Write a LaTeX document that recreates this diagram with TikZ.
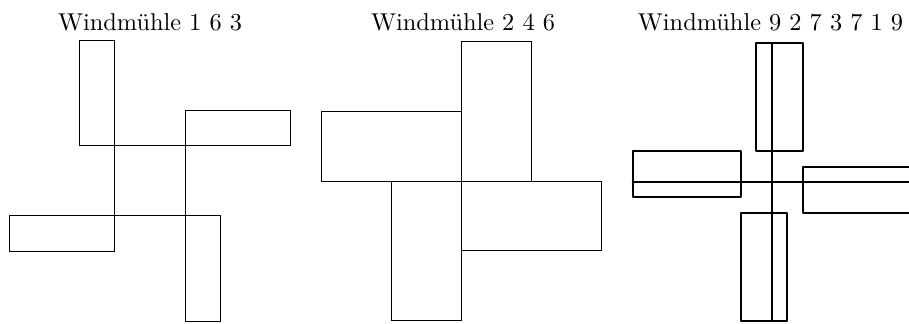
\documentclass[tikz,border=0pt]{standalone}
\usepackage{fontspec}
\begin{document}
\begin{tikzpicture}[x=0.4107pt,y=-0.4107pt,
  title/.style={anchor=base,inner sep=0pt,font=\fontsize{10}{12}\selectfont},
  thinline/.style={draw=black,line width=0.4pt},
  thickline/.style={draw=black,line width=0.85pt,line join=round,line cap=round}]
\useasboundingbox (0,0) rectangle (909,324);
% titles
\node[title] (t1) at (150,31) {Windmühle 1 6 3};
\node[title] (t2) at (463,31) {Windmühle 2 4 6};
\node[title] (t3) at (770.5,31) {Windmühle 9 2 7 3 7 1 9};
% panel 1
\begin{scope}[shift={(61.6pt,-74.26pt)},x=14.42pt,y=14.42pt]
  \path[thinline] (-2,1) rectangle (-1,4);
  \path[thinline] (1,1) rectangle (4,2);
  \path[thinline] (-4,-2) rectangle (-1,-1);
  \path[thinline] (1,-4) rectangle (2,-1);
  \path[thinline] (-1,-1) rectangle (1,1);
\end{scope}
% panel 2
\begin{scope}[shift={(189.62pt,-74.34pt)},x=14.37pt,y=14.37pt]
  \path[thinline] (0,0) rectangle (2,4);
  \path[thinline] (-4,0) rectangle (0,2);
  \path[thinline] (-2,-4) rectangle (0,0);
  \path[thinline] (0,-2) rectangle (4,0);
\end{scope}
% panel 3
\begin{scope}[shift={(316.94pt,-74.75pt)},x=6.345pt,y=6.345pt]
  \path[thickline] (-1,2) rectangle (2,9);
  \path[thickline] (-9,-1) rectangle (-2,2);
  \path[thickline] (2,-2) rectangle (9,1);
  \path[thickline] (-2,-9) rectangle (1,-2);
  \path[thickline] (0,-9) -- (0,9);
  \path[thickline] (-9,0) -- (9,0);
\end{scope}
\end{tikzpicture}
\end{document}
